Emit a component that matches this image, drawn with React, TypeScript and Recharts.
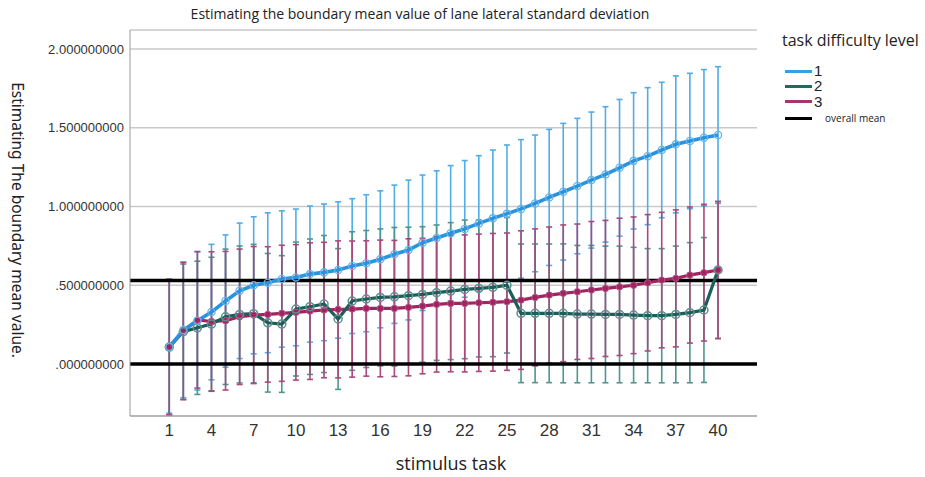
import {
  LineChart,
  Line,
  XAxis,
  YAxis,
  CartesianGrid,
  ErrorBar,
  ReferenceLine,
} from 'recharts';

// stimulus tasks 1..40
const tasks = [
  1, 2, 3, 4, 5, 6, 7, 8, 9, 10, 11, 12, 13, 14, 15, 16, 17, 18, 19, 20,
  21, 22, 23, 24, 25, 26, 27, 28, 29, 30, 31, 32, 33, 34, 35, 36, 37, 38, 39, 40,
];

const xTicks = [1, 4, 7, 10, 13, 16, 19, 22, 25, 28, 31, 34, 37, 40];
const yTicks = [0, 0.5, 1, 1.5, 2];

// difficulty level 1
const level1Mean = [
  0.108, 0.216, 0.275, 0.33, 0.4, 0.465, 0.5, 0.516, 0.54, 0.55,
  0.571, 0.582, 0.597, 0.622, 0.64, 0.665, 0.697, 0.724, 0.77, 0.8,
  0.83, 0.858, 0.893, 0.925, 0.955, 0.985, 1.02, 1.058, 1.094, 1.13,
  1.168, 1.204, 1.246, 1.29, 1.32, 1.359, 1.395, 1.416, 1.437, 1.454,
];
const level1Err = [
  0.42, 0.43, 0.44, 0.43, 0.42, 0.43, 0.435, 0.444, 0.433, 0.434,
  0.432, 0.434, 0.433, 0.428, 0.435, 0.435, 0.439, 0.444, 0.43, 0.427,
  0.43, 0.434, 0.43, 0.434, 0.436, 0.44, 0.434, 0.432, 0.434, 0.43,
  0.432, 0.43, 0.434, 0.433, 0.435, 0.43, 0.435, 0.43, 0.433, 0.434,
];

// difficulty level 2
const level2Mean = [
  0.108, 0.205, 0.23, 0.254, 0.3, 0.315, 0.32, 0.262, 0.254, 0.349,
  0.364, 0.381, 0.286, 0.4, 0.413, 0.423, 0.427, 0.434, 0.442, 0.453,
  0.463, 0.474, 0.48, 0.487, 0.5, 0.322, 0.322, 0.322, 0.322, 0.317,
  0.317, 0.315, 0.315, 0.311, 0.307, 0.307, 0.315, 0.326, 0.343, 0.597,
];
const level2Err = [
  0.43, 0.43, 0.423, 0.424, 0.43, 0.435, 0.44, 0.44, 0.434, 0.425,
  0.43, 0.435, 0.447, 0.44, 0.435, 0.435, 0.44, 0.435, 0.43, 0.43,
  0.435, 0.44, 0.435, 0.44, 0.43, 0.44, 0.44, 0.44, 0.441, 0.436,
  0.436, 0.434, 0.434, 0.43, 0.426, 0.426, 0.434, 0.445, 0.46, 0.435,
];

// difficulty level 3
const level3Mean = [
  0.108, 0.21, 0.28, 0.27, 0.275, 0.3, 0.311, 0.315, 0.322, 0.328,
  0.336, 0.343, 0.347, 0.349, 0.353, 0.353, 0.353, 0.36, 0.368, 0.379,
  0.385, 0.385, 0.389, 0.392, 0.396, 0.406, 0.423, 0.438, 0.449, 0.459,
  0.47, 0.48, 0.49, 0.5, 0.516, 0.533, 0.544, 0.565, 0.58, 0.597,
];
const level3Err = [
  0.43, 0.436, 0.433, 0.443, 0.44, 0.43, 0.435, 0.43, 0.432, 0.43,
  0.434, 0.43, 0.435, 0.432, 0.43, 0.434, 0.432, 0.435, 0.43, 0.43,
  0.434, 0.435, 0.436, 0.437, 0.436, 0.44, 0.435, 0.432, 0.434, 0.43,
  0.435, 0.432, 0.436, 0.434, 0.433, 0.43, 0.435, 0.432, 0.434, 0.435,
];

const overallMeanLines = [0.53, 0];

const chartData = tasks.map((t, i) => ({
  task: t,
  l1: level1Mean[i],
  l1Err: level1Err[i],
  l2: level2Mean[i],
  l2Err: level2Err[i],
  l3: level3Mean[i],
  l3Err: level3Err[i],
}));

const BLUE = '#2a93dd';
const BLUE_BAR = '#52ace6';
const TEAL = '#1c5f5a';
const TEAL_BAR = '#4f9590';
const RED = '#a0245f';
const RED_BAR = '#a9497c';

const formatY = (v: number) => v.toFixed(9).replace(/^0\./, '.');

const legendItems = [
  { label: '1', color: '#3a9fe0' },
  { label: '2', color: '#1e6b63' },
  { label: '3', color: '#a8356b' },
];

const App = () => {
  return (
    <div
      style={{
        position: 'absolute',
        left: 0,
        top: 0,
        width: 925,
        height: 477,
        background: '#fff',
        fontFamily: '"Open Sans", sans-serif',
        lineHeight: 1.2,
      }}
    >
      <LineChart
        width={925}
        height={477}
        data={chartData}
        margin={{ top: 30, right: 168, bottom: 0, left: 0 }}
      >
        <CartesianGrid vertical={false} stroke="#c9c9c9" strokeWidth={1.5} />
        <XAxis
          dataKey="task"
          type="number"
          domain={[-1.79, 42.77]}
          ticks={xTicks}
          allowDataOverflow
          tickLine={false}
          axisLine={{ stroke: '#999' }}
          height={61}
          tick={{ fontSize: 17, fill: '#333', fontFamily: '"Liberation Sans", Arial' }}
        />
        <YAxis
          type="number"
          domain={[-0.33, 2.121]}
          ticks={yTicks}
          allowDataOverflow
          tickLine={false}
          tickSize={4}
          axisLine={{ stroke: '#999' }}
          width={130}
          tickFormatter={formatY}
          tick={{ fontSize: 13, fill: '#333', fontFamily: '"Liberation Sans", Arial' }}
        />

        {/* error bars first so the mean lines sit on top */}
        <Line dataKey="l1" stroke="none" dot={false} activeDot={false} isAnimationActive={false}>
          <ErrorBar dataKey="l1Err" width={3} stroke={BLUE_BAR} strokeWidth={1.6} />
        </Line>
        <Line dataKey="l2" stroke="none" dot={false} activeDot={false} isAnimationActive={false}>
          <ErrorBar dataKey="l2Err" width={3} stroke={TEAL_BAR} strokeWidth={1.6} />
        </Line>
        <Line dataKey="l3" stroke="none" dot={false} activeDot={false} isAnimationActive={false}>
          <ErrorBar dataKey="l3Err" width={3} stroke={RED_BAR} strokeWidth={1.6} />
        </Line>

        {overallMeanLines.map((y) => (
          <ReferenceLine key={y} y={y} stroke="#000" strokeWidth={3.5} />
        ))}

        <Line
          dataKey="l3"
          stroke={RED}
          strokeWidth={3.2}
          dot={{ r: 3.2, fill: RED, stroke: '#b9538a', strokeWidth: 1 }}
          isAnimationActive={false}
        />
        <Line
          dataKey="l2"
          stroke={TEAL}
          strokeWidth={3.2}
          dot={{ r: 4, fill: 'none', stroke: '#5f8f8c', strokeWidth: 1.5 }}
          isAnimationActive={false}
        />
        <Line
          dataKey="l1"
          stroke={BLUE}
          strokeWidth={3.6}
          dot={{ r: 3.6, fill: 'none', stroke: '#63b4ea', strokeWidth: 1.3 }}
          isAnimationActive={false}
        />
      </LineChart>

      <div
        style={{
          position: 'absolute',
          left: 420,
          top: 14,
          transform: 'translate(-50%, -50%)',
          whiteSpace: 'nowrap',
          fontSize: 14,
          color: '#222',
        }}
      >
        Estimating the boundary mean value of lane lateral standard deviation
      </div>

      <div
        style={{
          position: 'absolute',
          left: 18,
          top: 220,
          transform: 'translate(-50%, -50%) rotate(90deg)',
          whiteSpace: 'nowrap',
          fontSize: 15.5,
          color: '#222',
          fontFamily: '"Noto Sans", sans-serif',
        }}
      >
        Estimating The boundary mean value.
      </div>

      <div
        style={{
          position: 'absolute',
          left: 451,
          top: 464,
          transform: 'translate(-50%, -50%)',
          whiteSpace: 'nowrap',
          fontSize: 18,
          color: '#222',
        }}
      >
        stimulus task
      </div>

      {/* legend */}
      <div
        style={{
          position: 'absolute',
          left: 782,
          top: 41,
          transform: 'translateY(-50%)',
          whiteSpace: 'nowrap',
          fontSize: 16,
          color: '#222',
        }}
      >
        task difficulty level
      </div>
      {legendItems.map((item, i) => (
        <div
          key={item.label}
          style={{
            position: 'absolute',
            left: 785,
            top: 71 + i * 15.3,
            transform: 'translateY(-50%)',
            display: 'flex',
            alignItems: 'center',
            fontSize: 15,
            color: '#222',
            fontFamily: '"Liberation Sans", Arial',
          }}
        >
          <span style={{ display: 'inline-block', width: 27, height: 3, background: item.color, marginRight: 2 }} />
          {item.label}
        </div>
      ))}
      <div
        style={{
          position: 'absolute',
          left: 785,
          top: 118,
          transform: 'translateY(-50%)',
          display: 'flex',
          alignItems: 'center',
          fontSize: 10,
          color: '#222',
        }}
      >
        <span style={{ display: 'inline-block', width: 27, height: 3, background: '#000', marginRight: 13 }} />
        overall mean
      </div>
    </div>
  );
};

export default App;
